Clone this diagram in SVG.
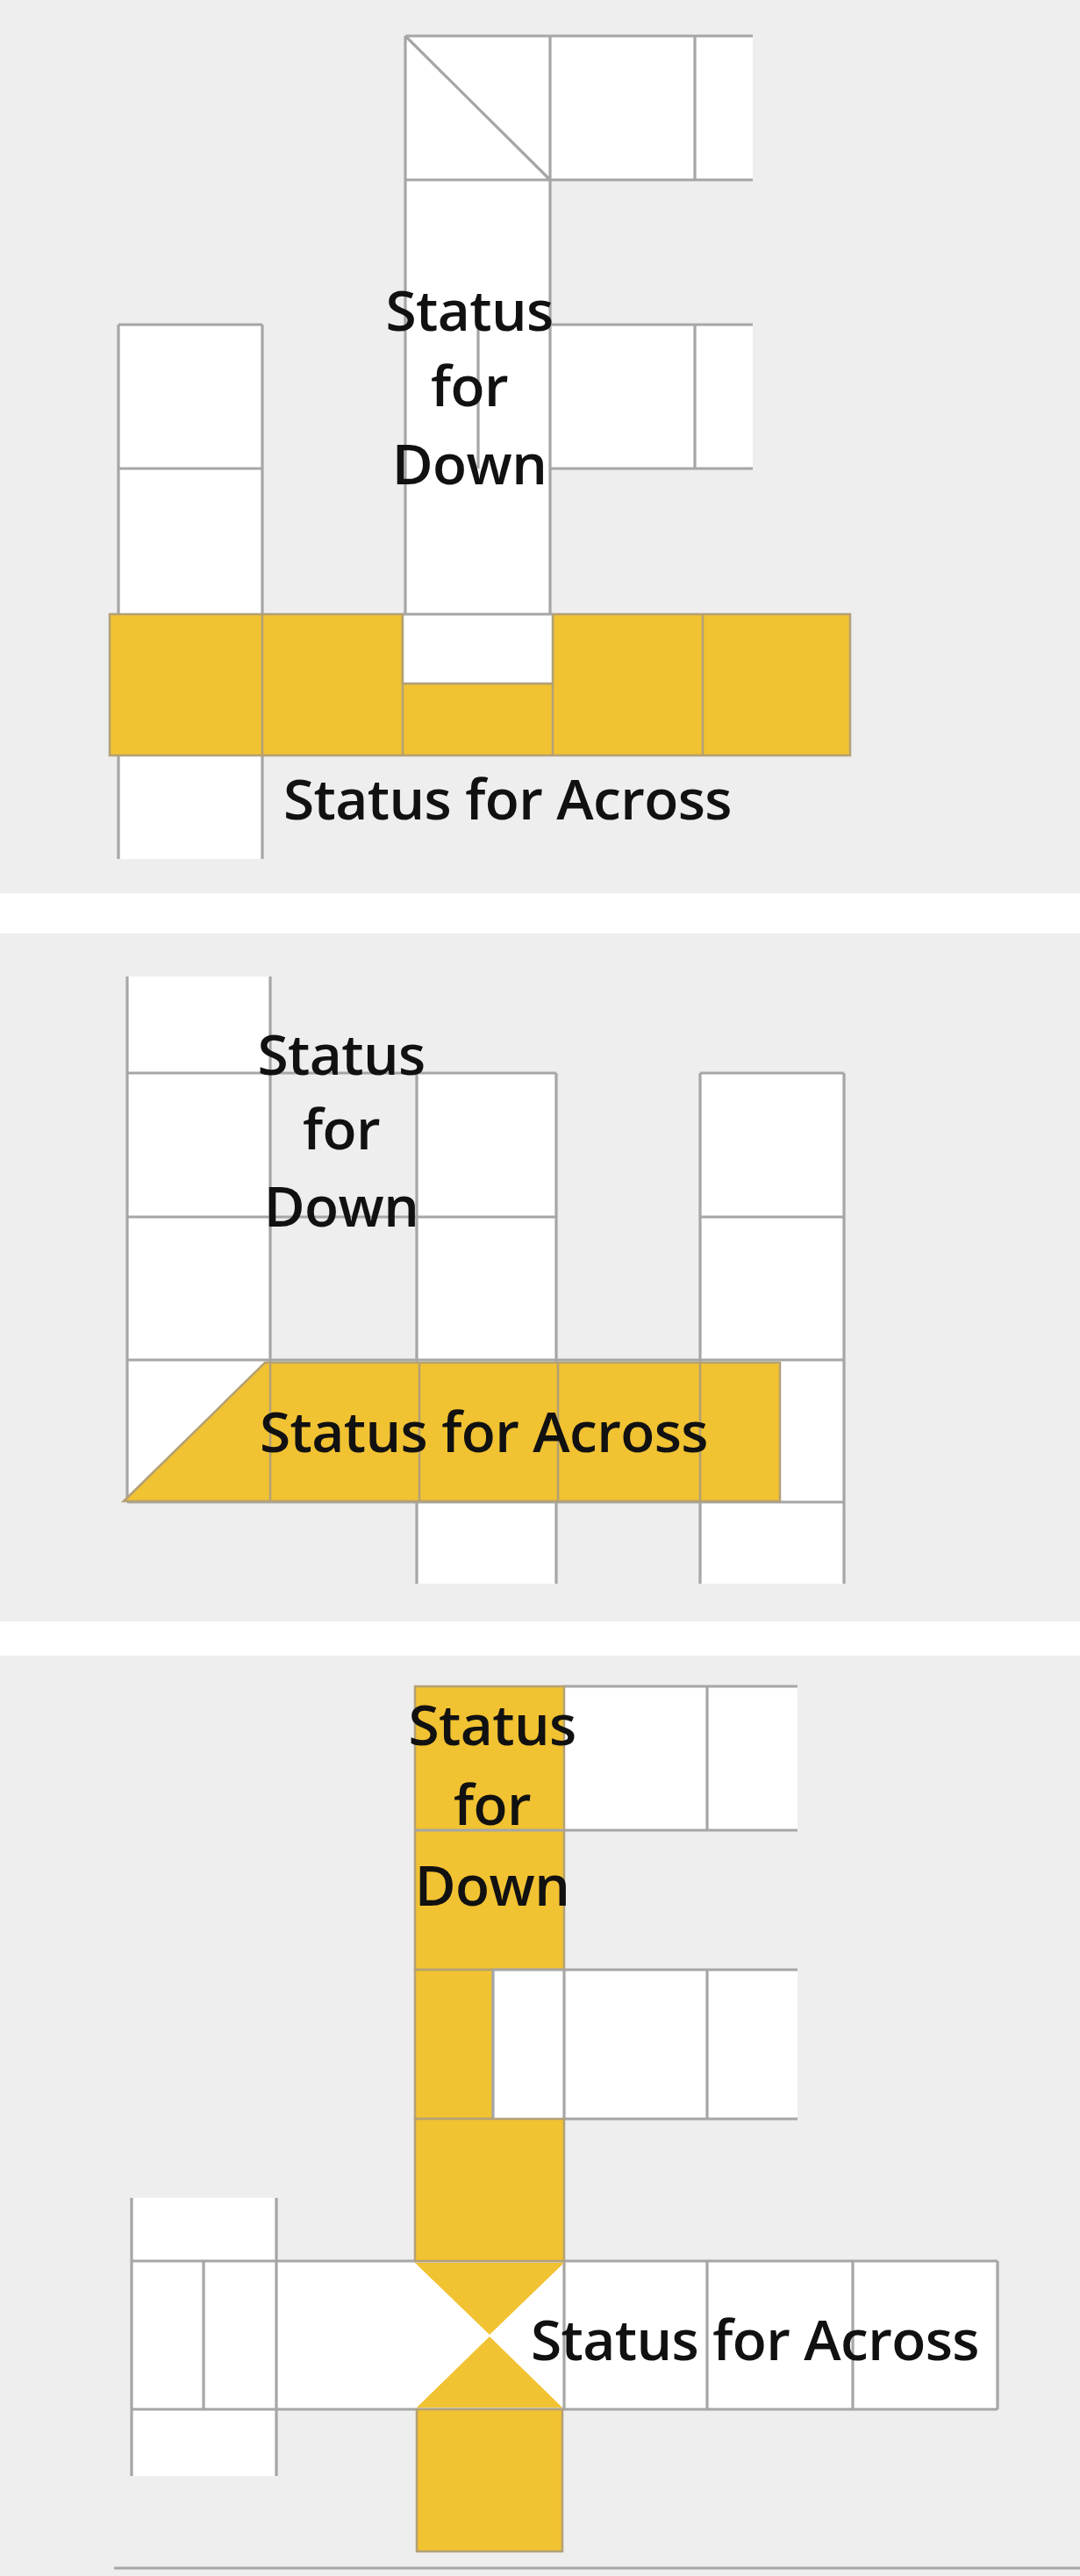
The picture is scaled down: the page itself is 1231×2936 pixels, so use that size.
<svg xmlns="http://www.w3.org/2000/svg" width="1231" height="2936" viewBox="0 0 1231 2936">
<style>
.bg{fill:#eeeeee}
.w{fill:#ffffff}
.y{fill:#f1c232;stroke:#b3a176;stroke-width:2.5}
.yf{fill:#f1c232}
.g{fill:none;stroke:#a6a6a6;stroke-width:3.2}
.e{fill:none;stroke:#b3a176;stroke-width:2.5}
.t{font-family:"Open Sans","Liberation Sans",Arial,sans-serif;font-size:64px;font-weight:600;letter-spacing:-0.6px;fill:#111111}
.c{text-anchor:middle}
</style>
<rect x="0" y="0" width="1231" height="2936" fill="#ffffff"/>
<rect class="bg" x="0" y="0" width="1231" height="1018"/>
<rect class="bg" x="0" y="1064" width="1231" height="784"/>
<rect class="bg" x="0" y="1887" width="1231" height="1049"/>

<g id="panel1">
  <g id="p1-cells">
    <rect class="w" x="462" y="41" width="165" height="659"/>
    <rect class="w" x="627" y="41" width="231" height="164"/>
    <rect class="w" x="627" y="370" width="231" height="164"/>
    <rect class="w" x="135" y="370" width="164" height="609"/>
    <path class="g" d="M462 41H858M462 205H858M627 370H858M627 534H858M135 370H299M135 534H299M462 41V700M627 41V700M792 41V205M792 370V534M545 372V534M135 370V979M299 370V979M462 41L627 205"/>
  </g>
  <g id="p1-across">
    <path class="y" d="M125 700H459V779H630V700H969V861H125Z"/>
    <rect class="w" x="459" y="700" width="171" height="79"/>
    <path class="g" d="M459 700H630"/>
    <path class="e" d="M299 700V861M459 700V861M630 700V861M801 700V861M459 779H630"/>
  </g>
  <g id="p1-labels">
    <text class="t c" x="535" y="377">Status</text>
    <text class="t c" x="535" y="463">for</text>
    <text class="t c" x="535" y="552">Down</text>
    <text class="t" x="323" y="934">Status for Across</text>
  </g>
</g>

<g id="panel2">
  <g id="p2-cells">
    <rect class="w" x="145" y="1113" width="163" height="599"/>
    <rect class="w" x="475" y="1223" width="159" height="582"/>
    <rect class="w" x="798" y="1223" width="164" height="582"/>
    <path class="g" d="M145 1113V1712M308 1113V1712M475 1223V1805M634 1223V1805M798 1223V1805M962 1223V1805M145 1223H634M798 1223H962M145 1387H634M798 1387H962M145 1550H962M145 1712H962"/>
  </g>
  <g id="p2-across">
    <path class="y" d="M141 1711L302 1553H889V1711Z"/>
    <path class="e" d="M308 1553V1711M478 1553V1711M636 1553V1711M798 1553V1711"/>
  </g>
  <g id="p2-labels">
    <text class="t c" x="389" y="1225">Status</text>
    <text class="t c" x="389" y="1310">for</text>
    <text class="t c" x="389" y="1398">Down</text>
    <text class="t" x="296" y="1655">Status for Across</text>
  </g>
</g>

<g id="panel3">
  <g id="p3-cells">
    <rect class="w" x="643" y="1922" width="266" height="164"/>
    <rect class="w" x="643" y="2245" width="266" height="170"/>
    <rect class="w" x="150" y="2577" width="987" height="169"/>
    <rect class="w" x="150" y="2505" width="165" height="72"/>
    <rect class="w" x="150" y="2746" width="165" height="76"/>
    <path class="g" d="M643 1922H909M643 2086H909M643 2245H909M643 2415H909M806 1922V2086M806 2245V2415M150 2577H1137M150 2746H1137M150 2505V2822M315 2505V2822M232 2577V2746M643 2577V2746M806 2577V2746M972 2577V2746M1137 2577V2746"/>
  </g>
  <g id="p3-down">
    <rect class="y" x="473" y="1922" width="170" height="323"/>
    <path class="g" d="M473 2086H643"/>
    <rect class="y" x="473" y="2245" width="89" height="170"/>
    <rect class="w" x="562" y="2245" width="81" height="170"/>
    <path class="g" d="M562 2245V2415M562 2245H643M643 2245V2415"/>
    <rect class="y" x="473" y="2415" width="170" height="162"/>
    <path class="yf" d="M473 2579H643L558 2661Z"/>
    <path class="yf" d="M475 2744H641L558 2663Z"/>
    <rect class="y" x="475" y="2746" width="166" height="162"/>
  </g>
  <g id="p3-labels">
    <text class="t c" x="561" y="1989">Status</text>
    <text class="t c" x="561" y="2080">for</text>
    <text class="t c" x="561" y="2172">Down</text>
    <text class="t" x="605" y="2690">Status for Across</text>
  </g>
  <path class="g" d="M130 2927H1231"/>
</g>
<g id="connectors"/>
</svg>
